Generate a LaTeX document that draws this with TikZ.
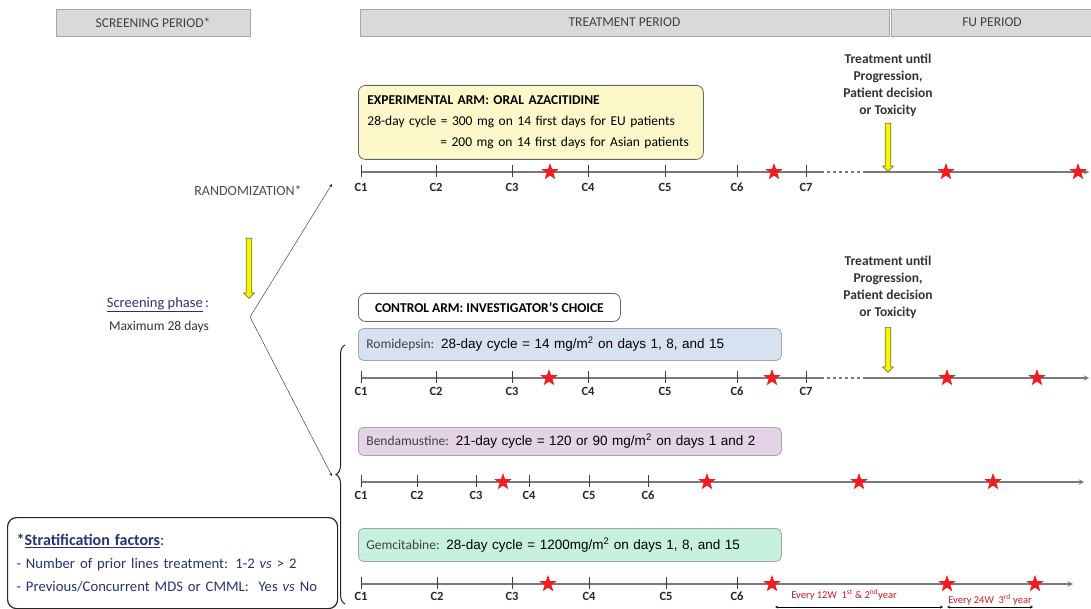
\documentclass[tikz,border=0pt]{standalone}
\usepackage{fontspec}
\setmainfont{Carlito}
\newfontfamily\arialfont{Liberation Sans}
\usepackage{tikz}
\usetikzlibrary{shapes.geometric,shapes.arrows,arrows.meta,positioning,decorations.pathreplacing,shadows}
\definecolor{Banner}{HTML}{D9D9D9}
\definecolor{Lemon}{HTML}{FCF8C9}
\definecolor{Sky}{HTML}{D6E2F0}
\definecolor{Lilac}{HTML}{E4D2E7}
\definecolor{Mint}{HTML}{C6F1DF}
\definecolor{Navy}{HTML}{283375}
\definecolor{Rail}{HTML}{7A7A7A}
\definecolor{Flag}{HTML}{F01E23}
\definecolor{Canary}{HTML}{F5F500}
\definecolor{Olive}{HTML}{7A7A1E}
\tikzset{
    % grey period banners on top
    periodbox/.style={
        rectangle,
        draw=gray!70,
        fill=Banner,
        minimum height=27,
        inner sep=0pt,
        font=\fontsize{13.5}{15}\selectfont,
        text=black!75,
        drop shadow={shadow xshift=1pt, shadow yshift=-1.5pt, fill=gray!80, opacity=1}
    },
    armbox/.style={
        rectangle,
        rounded corners=7pt,
        draw=black!60,
        fill=white,
        line width=0.8pt,
        anchor=north west,
        align=left,
        inner xsep=9pt,
        font=\fontsize{13.5}{21}\selectfont
    },
    drugbox/.style={
        armbox,
        rounded corners=5pt,
        draw=gray!70,
        minimum width=423,
        text width=407,
        inner xsep=8pt,
        font=\fontsize{13.5}{16}\selectfont
    },
    timeline/.style={
        draw=Rail,
        line width=1.3pt
    },
    tickmark/.style={
        draw=black!75,
        line width=0.8pt
    },
    cyclelabel/.style={
        font=\bfseries\fontsize{12.5}{13}\selectfont,
        text=black!85,
        inner sep=0pt
    },
    evalstar/.style={
        star,
        star points=5,
        star point ratio=2.5,
        fill=Flag,
        draw=none,
        minimum size=18,
        inner sep=0pt
    },
    stopnote/.style={
        align=center,
        font=\bfseries\fontsize{13.5}{17}\selectfont,
        text=black!80
    },
    yellowarrow/.style={
        single arrow,
        shape border rotate=270,
        draw=Olive,
        fill=Canary,
        line width=0.7pt,
        inner sep=2.4pt,
        single arrow head extend=2.6pt,
        anchor=tail
    },
    arrow/.style={
        ->,
        >=stealth,
        thin,
        color=black!85
    },
    twoway/.style={
        <->,
        >=stealth,
        thin,
        color=black
    },
    fuwindow/.style={
        font=\fontsize{10.5}{12}\selectfont,
        text=Flag!85!black
    }
}
\begin{document}
\begin{tikzpicture}[x=1pt, y=-1pt]
    \useasboundingbox (0,0) rectangle (1091,609);

    % period banners
    \node[periodbox, minimum width=194] (screen-head) at (153,22.5) {SCREENING PERIOD*};
    \node[periodbox, minimum width=529] (treat-head) at (624.5,22.5) {TREATMENT PERIOD};
    \node[periodbox, minimum width=201] (fu-head) at (992,22.5) {FU PERIOD};

    % screening and randomization
    \node[font=\fontsize{14}{16}\selectfont, text=black!70] (rand-label) at (248,191) {RANDOMIZATION*};
    \node[yellowarrow, minimum height=60] (screen-arrow) at (249,238) {};
    \node[font=\fontsize{14.5}{17}\selectfont, text=Navy] (screen-phase) at (158,305) {\underline{Screening phase}\,:};
    \node[font=\fontsize{13.5}{16}\selectfont, text=black!80] (screen-max) at (159,327) {Maximum 28 days};
    \coordinate (split) at (250,317);
    \coordinate (exp-in) at (332,184);
    \coordinate (ctrl-in) at (332,476);
    \draw[arrow] (split) -- (exp-in);
    \draw[arrow] (split) -- (ctrl-in);

    % experimental arm
    \node[armbox, fill=Lemon, minimum width=345, minimum height=74, text width=327] (exp-box) at (358,85) {%
        \textbf{EXPERIMENTAL ARM: ORAL AZACITIDINE}\\
        28-day cycle = 300 mg on 14 first days for EU patients\\
        \hspace*{73pt}= 200 mg on 14 first days for Asian patients};
    \coordinate (exp-start) at (361,172);
    \coordinate (exp-solid) at (821,172);
    \coordinate (exp-dash) at (866,172);
    \coordinate (exp-end) at (1089,172);
    \draw[timeline] (exp-start) -- (exp-solid);
    \draw[timeline, dashed] (exp-solid) -- (exp-dash);
    \draw[timeline, ->, >=stealth] (exp-dash) -- (exp-end);
    \foreach \x [count=\c] in {361,436,512,588,665,737,806} {
        \draw[tickmark] (\x,165) -- (\x,177);
        \node[cyclelabel] (exp-c\c) at (\x,187) {C\c};
    }
    \foreach \x [count=\s] in {550,774,946,1078}
        \node[evalstar] (exp-s\s) at (\x,172) {};
    \node[stopnote] (exp-stop) at (888,85) {Treatment until\\Progression,\\Patient decision\\or Toxicity};
    \node[yellowarrow, minimum height=48] (exp-stoparrow) at (888,123) {};

    % control arm
    \node[armbox, minimum width=262, minimum height=28, font=\bfseries\fontsize{13.5}{16}\selectfont] (ctrl-box) at (358,293) {CONTROL ARM: INVESTIGATOR'S CHOICE};
    \coordinate (brace-bot) at (345,604);
    \coordinate (brace-top) at (345,345);
    \draw[black!85, line width=1pt, decorate, decoration={brace, amplitude=9pt}] (brace-bot) -- (brace-top);

    % romidepsin
    \node[drugbox, fill=Sky, minimum height=32] (romi-box) at (358,328) {%
        \textcolor{black!75}{Romidepsin:} {\arialfont 28-day cycle = 14 mg/m\textsuperscript{2} on days 1, 8, and 15}};
    \coordinate (romi-start) at (361,378);
    \coordinate (romi-solid) at (821,378);
    \coordinate (romi-dash) at (866,378);
    \coordinate (romi-end) at (1089,378);
    \draw[timeline] (romi-start) -- (romi-solid);
    \draw[timeline, dashed] (romi-solid) -- (romi-dash);
    \draw[timeline, ->, >=stealth] (romi-dash) -- (romi-end);
    \foreach \x [count=\c] in {361,436,512,588,665,737,806} {
        \draw[tickmark] (\x,371) -- (\x,383);
        \node[cyclelabel] (romi-c\c) at (\x,391) {C\c};
    }
    \foreach \x [count=\s] in {549,772,947,1037}
        \node[evalstar] (romi-s\s) at (\x,378) {};
    \node[stopnote] (romi-stop) at (888,287) {Treatment until\\Progression,\\Patient decision\\or Toxicity};
    \node[yellowarrow, minimum height=45] (romi-stoparrow) at (888,327) {};

    % bendamustine
    \node[drugbox, fill=Lilac, minimum height=28] (benda-box) at (358,427) {%
        \textcolor{black!75}{Bendamustine:} {\arialfont 21-day cycle = 120 or 90 mg/m\textsuperscript{2} on days 1 and 2}};
    \coordinate (benda-start) at (361,482);
    \coordinate (benda-end) at (1084,482);
    \draw[timeline, ->, >=stealth] (benda-start) -- (benda-end);
    \foreach \x [count=\c] in {361,417,476,529,589,648} {
        \draw[tickmark] (\x,475) -- (\x,487);
        \node[cyclelabel] (benda-c\c) at (\x,495) {C\c};
    }
    \foreach \x [count=\s] in {503,707,859,993}
        \node[evalstar] (benda-s\s) at (\x,482) {};

    % gemcitabine
    \node[drugbox, fill=Mint, minimum height=33] (gemci-box) at (358,528) {%
        \textcolor{black!75}{Gemcitabine:} {\arialfont 28-day cycle = 1200mg/m\textsuperscript{2} on days 1, 8, and 15}};
    \coordinate (gemci-start) at (361,584);
    \coordinate (gemci-end) at (1073,584);
    \draw[timeline, ->, >=stealth] (gemci-start) -- (gemci-end);
    \foreach \x [count=\c] in {361,437,512,589,666,737} {
        \draw[tickmark] (\x,577) -- (\x,589);
        \node[cyclelabel] (gemci-c\c) at (\x,596) {C\c};
    }
    \foreach \x [count=\s] in {548,772,947,1035}
        \node[evalstar] (gemci-s\s) at (\x,584) {};

    % follow-up windows
    \node[fuwindow] (fu-every12) at (844,595) {Every 12W\ \ 1\textsuperscript{st} \& 2\textsuperscript{nd}year};
    \node[fuwindow] (fu-every24) at (990,600) {Every 24W\ \ 3\textsuperscript{rd} year};
    \coordinate (fu12-a) at (775,607);
    \coordinate (fu12-b) at (943,607);
    \coordinate (fu24-a) at (947,607);
    \coordinate (fu24-b) at (1033,607);
    \draw[twoway] (fu12-a) -- (fu12-b);
    \draw[twoway] (fu24-a) -- (fu24-b);

    % stratification
    \node[armbox, rounded corners=9pt, draw=black!85, line width=1.2pt, minimum width=330, minimum height=91, text width=312, inner xsep=9pt, font=\fontsize{14.7}{23}\selectfont, text=Navy] (strata) at (7,517) {%
        {\fontsize{16}{23}\selectfont\textbf{*\underline{Stratification factors}}:}\\
        - Number of prior lines treatment: 1-2 \textit{vs} > 2\\
        - Previous/Concurrent MDS or CMML:\ \ Yes \textit{vs} No};
\end{tikzpicture}
\end{document}
